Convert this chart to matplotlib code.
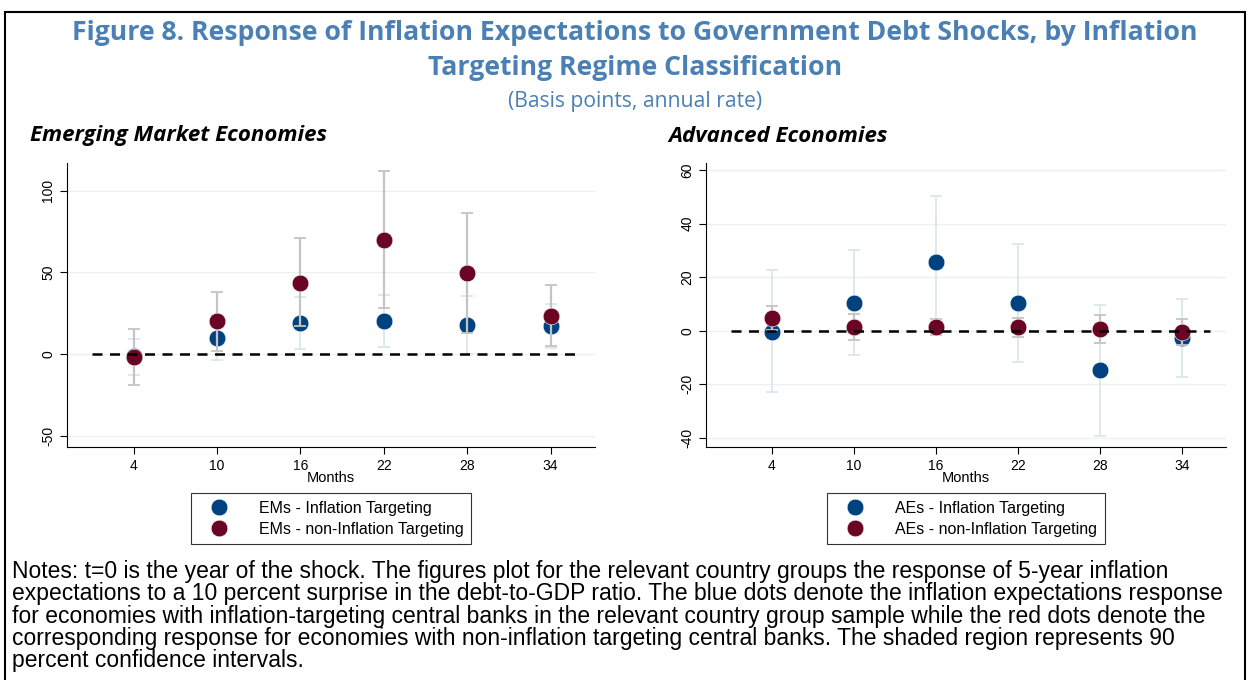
import numpy as np
import matplotlib.pyplot as plt
from matplotlib.patches import Rectangle

# horizons (months)
months = [4, 10, 16, 22, 28, 34]

# Emerging markets: point estimates and 90% CI bounds
em_it = [-1.0, 10.0, 19.0, 20.0, 17.5, 17.0]
em_it_lo = [-13.0, -3.7, 3.0, 4.0, 0.0, 3.5]
em_it_hi = [9.0, 23.7, 35.0, 36.0, 35.4, 30.5]
em_nit = [-2.0, 20.0, 43.7, 70.0, 49.6, 23.5]
em_nit_lo = [-19.0, 2.0, 17.0, 28.0, 13.0, 5.0]
em_nit_hi = [15.0, 38.0, 71.0, 112.0, 86.6, 42.0]

# Advanced economies
ae_it = [-0.5, 10.5, 25.5, 10.4, -14.75, -2.6]
ae_it_lo = [-23.0, -9.2, 0.75, -11.6, -39.25, -17.1]
ae_it_hi = [22.7, 30.2, 50.25, 32.4, 9.75, 11.9]
ae_nit = [4.6, 1.4, 1.4, 1.4, 0.75, -0.4]
ae_nit_lo = [0.1, -3.3, -1.6, -2.4, -4.5, -5.3]
ae_nit_hi = [9.1, 6.1, 4.4, 4.9, 6.0, 4.5]

em_yticks = [-50, 0, 50, 100]
ae_yticks = [-40, -20, 0, 20, 40, 60]

BLUE = '#00427f'
RED = '#6a0624'
TITLE_C = '#4a80b4'

plt.rcParams['font.family'] = ['Liberation Sans', 'DejaVu Sans']

fig = plt.figure(figsize=(12.48, 6.8), dpi=100)

# outer frame
fig.patches.append(Rectangle((5 / 1248, -0.1), 1240 / 1248, 1 - 12 / 680 + 0.1,
                             transform=fig.transFigure, fill=False,
                             edgecolor='black', linewidth=1.5))

tx = 635 / 1248
fig.text(tx, 1 - 33 / 680, 'Figure 8. Response of Inflation Expectations to Government Debt Shocks, by Inflation',
         ha='center', va='center', fontsize=19.2, fontweight='bold', color=TITLE_C, family='Open Sans')
fig.text(tx, 1 - 68 / 680, 'Targeting Regime Classification',
         ha='center', va='center', fontsize=19.2, fontweight='bold', color=TITLE_C, family='Open Sans')
fig.text(tx, 1 - 101 / 680, '(Basis points, annual rate)',
         ha='center', va='center', fontsize=15.2, color=TITLE_C, family='Open Sans')

fig.text(30 / 1248, 1 - 136 / 680, 'Emerging Market Economies', ha='left', va='center',
         fontsize=16, fontweight='bold', style='italic', family='Open Sans')
fig.text(668 / 1248, 1 - 136 / 680, 'Advanced Economies', ha='left', va='center',
         fontsize=16, fontweight='bold', style='italic', family='Open Sans')


def panel(rect, it, it_lo, it_hi, nit, nit_lo, nit_hi, ylim, yticks, prefix):
    ax = fig.add_axes(rect)
    x = np.array(months)
    it = np.array(it)
    nit = np.array(nit)
    ax.errorbar(x, it, yerr=[it - np.array(it_lo), np.array(it_hi) - it], fmt='none',
                ecolor='#dbe7ec', elinewidth=1.3, capsize=4, capthick=1.3, zorder=2)
    ax.plot(x, it, 'o', color=BLUE, markersize=12, markeredgecolor='white',
            markeredgewidth=0.4, zorder=3, label=prefix + ' - Inflation Targeting')
    ax.errorbar(x, nit, yerr=[nit - np.array(nit_lo), np.array(nit_hi) - nit], fmt='none',
                ecolor='#c4c4c4', elinewidth=1.6, capsize=4, capthick=1.3, zorder=4)
    ax.plot(x, nit, 'o', color=RED, markersize=12, markeredgecolor='white',
            markeredgewidth=0.4, zorder=5, label=prefix + ' - non-Inflation Targeting')
    ax.plot([1, 36], [0, 0], '--', color='black', linewidth=1.8, dashes=(4, 3), zorder=6)
    ax.set_xlim(-0.8, 37.2)
    ax.set_ylim(*ylim)
    ax.set_xticks(months)
    ax.set_yticks(yticks)
    ax.set_yticklabels([str(t) for t in yticks], rotation=90, va='center')
    ax.grid(axis='y', color='#e9f1f3', linewidth=1)
    ax.set_axisbelow(True)
    ax.tick_params(labelsize=10, length=5, width=0.8)
    ax.spines['top'].set_visible(False)
    ax.spines['right'].set_visible(False)
    ax.set_xlabel('Months', fontsize=10.5, labelpad=-1)
    leg = ax.legend(loc='upper center', bbox_to_anchor=(0.5, -0.135), ncol=1, fontsize=11.5,
                    frameon=True, fancybox=False, edgecolor='black', handletextpad=1.2,
                    borderpad=0.45, labelspacing=0.4, markerscale=1.0, handlelength=2.6)
    leg.get_frame().set_linewidth(0.8)
    return ax


panel([67 / 1248, 1 - 447 / 680, 528 / 1248, 284 / 680],
      em_it, em_it_lo, em_it_hi, em_nit, em_nit_lo, em_nit_hi,
      (-57, 117), em_yticks, 'EMs')
panel([706 / 1248, 1 - 447 / 680, 520 / 1248, 284 / 680],
      ae_it, ae_it_lo, ae_it_hi, ae_nit, ae_nit_lo, ae_nit_hi,
      (-43.4, 62.6), ae_yticks, 'AEs')

notes = ('Notes: t=0 is the year of the shock. The figures plot for the relevant country groups the response of 5-year inflation\n'
         'expectations to a 10 percent surprise in the debt-to-GDP ratio. The blue dots denote the inflation expectations response\n'
         'for economies with inflation-targeting central banks in the relevant country group sample while the red dots denote the\n'
         'corresponding response for economies with non-inflation targeting central banks. The shaded region represents 90\n'
         'percent confidence intervals.')
fig.text(12 / 1248, 1 - 560 / 680, notes, ha='left', va='top', fontsize=16.5, linespacing=0.96)

fig.savefig('out.png', dpi=100)
